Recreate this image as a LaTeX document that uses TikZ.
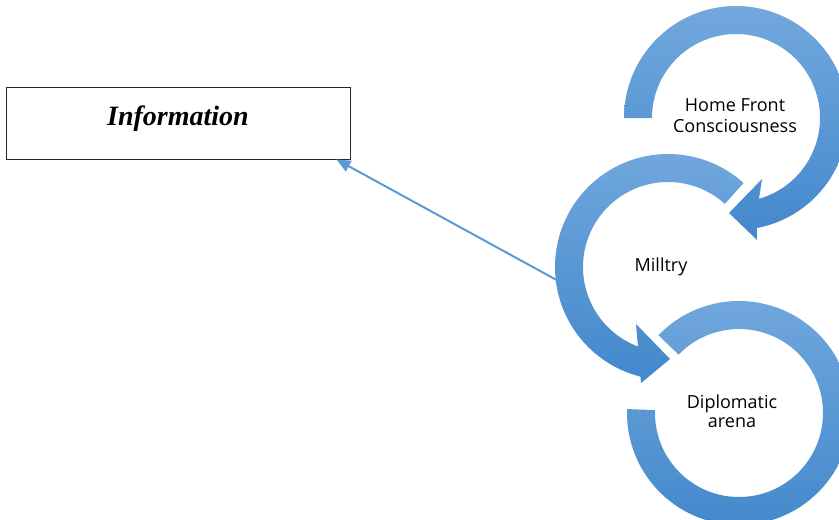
\documentclass[tikz,border=0pt]{standalone}
\usepackage{fontspec}
\setmainfont{Liberation Serif}
\newfontfamily\lblfont{Open Sans}
\usetikzlibrary{arrows.meta,calc}
\definecolor{ringtop}{RGB}{114,168,221}
\definecolor{ringbot}{RGB}{66,136,204}
\definecolor{connblue}{RGB}{91,155,213}
\begin{document}
\begin{tikzpicture}[x=1pt,y=-1pt,
  ring/.style={top color=ringtop, bottom color=ringbot, draw=none},
  lbl/.style={font=\lblfont\fontsize{18}{21}\selectfont, align=center, text=black, inner sep=0pt},
  conn/.style={draw=connblue, line width=2pt, -{Triangle[length=14pt,width=12pt]}},
  infobox/.style={draw=black!85, line width=1pt, minimum width=344pt, minimum height=72pt,
    inner sep=0pt, font=\fontsize{28}{34}\selectfont\bfseries\itshape,
    text height=20pt, text depth=16pt}]
\useasboundingbox (0,0) rectangle (839,520);
\clip (0,0) rectangle (839,520);
\coordinate (C1) at (736,118);
\coordinate (C2) at (668,267);
\coordinate (C3) at (739,413);
% information box
\node[infobox] (info) at (178,123) {Information};
% connector (foot hidden under the Milltry ring)
\coordinate (mfoot) at (573,289);
\draw[conn] (mfoot) -- ($(info.south east)+(-14,0)$);
% ring 1: Home Front Consciousness
\shade[ring] ($(C1)+(180:112)$) arc[start angle=180,end angle=439.3,radius=112]
  -- (757,240) -- (729,213) -- (762,179)
  -- ($(C1)+(434.1:84)$) arc[start angle=434.1,end angle=180,radius=84] -- cycle;
% ring 2: Milltry
\shade[ring] ($(C2)+(-48:113)$) arc[start angle=-48,end angle=-255.9,radius=113]
  -- (641,383) -- (670,359) -- (636,324)
  -- ($(C2)+(-249.3:85)$) arc[start angle=-249.3,end angle=-48,radius=85] -- cycle;
% ring 3: Diplomatic arena
\shade[ring] ($(C3)+(224:112)$) arc[start angle=224,end angle=542,radius=112]
  -- ($(C3)+(542:84)$) arc[start angle=542,end angle=224,radius=84] -- cycle;
% labels
\node[lbl] (home) at (735,116) {Home Front\\Consciousness};
\node[lbl] (mil) at (661,267) {Milltry};
\node[lbl, font=\lblfont\fontsize{18}{19.5}\selectfont] (dip) at (732,411) {Diplomatic\\arena};
\end{tikzpicture}
\end{document}
